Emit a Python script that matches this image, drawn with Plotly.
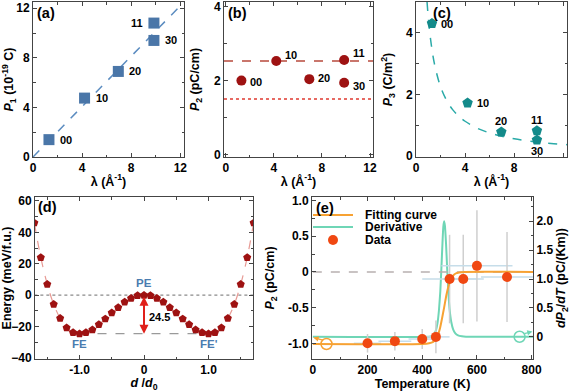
import plotly.graph_objects as go

# panels (a)-(c): polarisation vs lambda
lam = [1.3, 4.2, 6.95, 9.85, 9.85]
labels = ["00", "10", "20", "11", "30"]
p1 = [1.4, 4.75, 6.9, 10.8, 9.4]
p2 = [2.0, 2.53, 2.04, 2.56, 1.94]
p3 = [4.3, 1.72, 0.78, 0.82, 0.52]

fit1_x = [0, 12.3]
fit1_y = [0, 12.5]
p2_dash = 2.53
p2_dot = 1.5
fit3_x = [0.9, 1.0, 1.2, 1.5, 2.0, 2.5, 3.0, 3.5, 4.0, 5.0, 6.0, 7.0, 8.0, 9.0, 10.0, 11.0, 12.3]
fit3_y = [5.0, 4.5, 3.75, 3.0, 2.25, 1.8, 1.5, 1.29, 1.13, 0.9, 0.75, 0.64, 0.56, 0.5, 0.45, 0.41, 0.37]

# panel (d): double-well energy
d_vals = [round(-1.7 + 0.1 * i, 1) for i in range(35)]
e_half = [0.0, -0.2, -2.0, -4.4, -7.9, -11.2, -15.1, -18.7, -22.0, -23.7, -24.5,
          -23.7, -20.7, -14.7, -5.8, 7.0, 24.0, 46.0]  # |d| = 0.0 ... 1.7
energy = e_half[::-1] + e_half[1:]
barrier = -24.5

# panel (e): temperature dependence
temps = [200, 300, 400, 450, 500, 550, 600, 710]
p2_T = [-1.0, -0.97, -0.94, -0.91, -0.10, -0.10, 0.085, -0.07]
err_p = [0.13, 0.13, 0.14, 0.23, 0.62, 0.62, 0.78, 0.63]
err_T = [50, 60, 50, 50, 100, 75, 130, 95]
fit_T = [0, 400, 425, 440, 450, 458, 465, 472, 480, 488, 496, 504, 512, 522, 535, 555, 805]
fit_P = [-1.01, -1.01, -1.0, -0.98, -0.94, -0.88, -0.79, -0.66, -0.5, -0.33, -0.2, -0.11, -0.055, -0.022, -0.007, 0.0, 0.0]
deriv_T = [0, 425, 435, 443, 450, 456, 461, 466, 470, 474, 477, 480, 483, 487, 491, 495, 500, 506, 513, 521, 531, 545, 560, 805]
deriv_V = [0.0, 0.0, 0.01, 0.04, 0.11, 0.24, 0.45, 0.78, 1.18, 1.62, 1.9, 2.0, 1.92, 1.62, 1.2, 0.82, 0.48, 0.26, 0.13, 0.06, 0.025, 0.008, 0.0, 0.0]

BLUE = "#4a76a8"
DRED = "#9e1212"
TEAL = "#138a8a"
ORANGE = "#f7a233"
MINT = "#6fd6b6"
DOT = "#f04812"
FRAME = "#444444"

fig = go.Figure()

# (a)
fig.add_trace(go.Scatter(x=fit1_x, y=fit1_y, mode="lines", line=dict(color="#5b8cc0", dash="dash", width=1.5),
                         xaxis="x", yaxis="y", showlegend=False))
fig.add_trace(go.Scatter(x=lam, y=p1, mode="markers", marker=dict(symbol="square", size=11, color=BLUE),
                         xaxis="x", yaxis="y", showlegend=False))
# (b)
fig.add_trace(go.Scatter(x=[-0.15, 12.25], y=[p2_dash, p2_dash], mode="lines",
                         line=dict(color="#b84a3c", dash="dash", width=1.5), xaxis="x2", yaxis="y2", showlegend=False))
fig.add_trace(go.Scatter(x=[-0.15, 12.25], y=[p2_dot, p2_dot], mode="lines",
                         line=dict(color="#e03a30", dash="dot", width=1.5), xaxis="x2", yaxis="y2", showlegend=False))
fig.add_trace(go.Scatter(x=lam, y=p2, mode="markers", marker=dict(symbol="circle", size=10, color=DRED),
                         xaxis="x2", yaxis="y2", showlegend=False))
# (c)
fig.add_trace(go.Scatter(x=fit3_x, y=fit3_y, mode="lines", line=dict(color="#2aaaa8", dash="dash", width=1.5, shape="spline"),
                         xaxis="x3", yaxis="y3", showlegend=False))
fig.add_trace(go.Scatter(x=lam, y=p3, mode="markers", marker=dict(symbol="pentagon", size=11, color=TEAL),
                         xaxis="x3", yaxis="y3", showlegend=False))
# (d)
fig.add_trace(go.Scatter(x=[-1.7, 1.7], y=[0, 0], mode="lines", line=dict(color="#8a8a8a", dash="dot", width=1.2),
                         xaxis="x4", yaxis="y4", showlegend=False))
fig.add_trace(go.Scatter(x=[-1.0, 1.0], y=[barrier, barrier], mode="lines", line=dict(color="#9a9a9a", dash="dash", width=1.2),
                         xaxis="x4", yaxis="y4", showlegend=False))
fig.add_trace(go.Scatter(x=d_vals, y=energy, mode="lines+markers",
                         line=dict(color="#e79a94", dash="dash", width=1.2, shape="spline"),
                         marker=dict(symbol="pentagon", size=8.5, color=DRED),
                         xaxis="x4", yaxis="y4", showlegend=False))
# (e) derivative on right axis (y5), P2 on left axis (y6)
fig.add_trace(go.Scatter(x=deriv_T, y=deriv_V, mode="lines", line=dict(color=MINT, width=2, shape="spline", smoothing=0.4),
                         xaxis="x5", yaxis="y5", showlegend=False))
fig.add_trace(go.Scatter(x=[756], y=[0], mode="markers",
                         marker=dict(symbol="circle-open", size=11, color=MINT, line=dict(width=1.5)),
                         xaxis="x5", yaxis="y5", showlegend=False))
fig.add_trace(go.Scatter(x=[0, 805], y=[0, 0], mode="lines", line=dict(color="#b8b0b0", dash="dash", width=1.5),
                         xaxis="x5", yaxis="y6", showlegend=False))
fig.add_trace(go.Scatter(x=temps, y=p2_T, mode="markers",
                         marker=dict(size=0.1, color="rgba(0,0,0,0)"),
                         error_y=dict(type="data", array=err_p, color="#cfcfcf", thickness=1.5, width=0),
                         error_x=dict(type="data", array=err_T, color="#c6dde9", thickness=1.5, width=0),
                         xaxis="x5", yaxis="y6", showlegend=False))
fig.add_trace(go.Scatter(x=fit_T, y=fit_P, mode="lines", line=dict(color=ORANGE, width=2, shape="spline", smoothing=0.5),
                         xaxis="x5", yaxis="y6", showlegend=False))
fig.add_trace(go.Scatter(x=[50], y=[-1.01], mode="markers",
                         marker=dict(symbol="circle-open", size=11, color=ORANGE, line=dict(width=1.5)),
                         xaxis="x5", yaxis="y6", showlegend=False))
fig.add_trace(go.Scatter(x=temps, y=p2_T, mode="markers", marker=dict(size=10, color=DOT),
                         xaxis="x5", yaxis="y6", showlegend=False))


def axis(domain, rng, anchor, dtick=None, minor_dtick=None, **kw):
    d = dict(domain=domain, range=rng, anchor=anchor, showline=True, linecolor=FRAME, linewidth=1,
             mirror="ticks", ticks="inside", ticklen=4, tickcolor=FRAME, showgrid=False, zeroline=False,
             tickfont=dict(size=12), automargin=False)
    if dtick is not None:
        d.update(tick0=0, dtick=dtick)
    if minor_dtick is not None:
        d["minor"] = dict(tick0=0, dtick=minor_dtick, ticks="inside", ticklen=2.5, tickcolor=FRAME, showgrid=False)
    d.update(kw)
    return d


row1 = [1 - 157 / 392, 1 - 2 / 392]
row2 = [1 - 359 / 392, 1 - 197 / 392]
lam_title = dict(text="λ (Å<sup>-1</sup>)", font=dict(size=12.5), standoff=2)
minor_style = dict(ticks="inside", ticklen=2.5, tickcolor=FRAME, showgrid=False)

fig.update_layout(
    width=570, height=392,
    margin=dict(l=0, r=0, t=0, b=0),
    paper_bgcolor="white", plot_bgcolor="white",
    font=dict(family="Liberation Sans, Arial, sans-serif", size=12, color="black", weight="bold"),
    showlegend=False,
    xaxis=axis([33 / 570, 184 / 570], [0, 12.3], "y", 4, 2, title=lam_title),
    yaxis=axis(row1, [0, 12.5], "x", 4, 2,
               title=dict(text="<i>P</i><sub>1</sub> (10<sup>-19</sup> C)", font=dict(size=12.5), standoff=4)),
    xaxis2=axis([224 / 570, 373 / 570], [-0.15, 12.25], "y2", 4, 2, title=lam_title),
    yaxis2=axis(row1, [-0.07, 4.13], "x2", 2, 1,
                title=dict(text="<i>P</i><sub>2</sub> (pC/cm)", font=dict(size=12.5), standoff=11)),
    xaxis3=axis([416 / 570, 567 / 570], [0, 12.3], "y3", 4, 2, title=lam_title),
    yaxis3=axis(row1, [-0.03, 5.0], "x3", 2, 1,
                title=dict(text="<i>P</i><sub>3</sub> (C/m<sup>2</sup>)", font=dict(size=12.5), standoff=10)),
    xaxis4=axis([35 / 570, 253 / 570], [-1.69, 1.69], "y4",
                tickvals=[-1.0, 0, 1.0], ticktext=["-1.0", "0", "1.0"],
                minor=dict(tickvals=[-1.5, -0.5, 0.5, 1.5], **minor_style),
                title=dict(text="<i>d</i> /<i>d</i><sub>0</sub>", font=dict(size=12.5), standoff=2)),
    yaxis4=axis(row2, [-40.6, 62.5], "x4", 20, 10,
                title=dict(text="Energy (meV/f.u.)", font=dict(size=12.5), standoff=3)),
    xaxis5=axis([312 / 570, 533 / 570], [-3, 805], "y5", 200, 100,
                title=dict(text="Temperature (K)", font=dict(size=12.5), standoff=2)),
    yaxis5=axis(row2, [-0.385, 2.42], "x5", side="right", mirror=False,
                tickvals=[0, 0.5, 1.0, 1.5, 2.0], ticktext=["0", "0.5", "1.0", "1.5", "2.0"],
                minor=dict(tickvals=[0.25, 0.75, 1.25, 1.75, 2.25], **minor_style),
                title=dict(text="<i>dP</i><sub>2</sub>/<i>dT</i> (pC/(Km))", font=dict(size=12.5), standoff=4)),
    yaxis6=axis(row2, [-1.22, 1.05], "x5", side="left", overlaying="y5", mirror=False,
                tickvals=[-1.0, -0.5, 0, 0.5, 1.0], ticktext=["-1.0", "-0.5", "0", "0.5", "1.0"],
                minor=dict(tickvals=[-0.75, -0.25, 0.25, 0.75], **minor_style),
                title=dict(text="<i>P</i><sub>2</sub> (pC/cm)", font=dict(size=12.5), standoff=10)),
)

ann = []
# panel letters
for txt, px, py in [("(a)", 35, 13), ("(b)", 226, 13), ("(c)", 431, 13), ("(d)", 36, 207), ("(e)", 314, 208)]:
    ann.append(dict(text=txt, x=px / 570, y=1 - py / 392, xref="paper", yref="paper",
                    xanchor="left", yanchor="middle", showarrow=False, font=dict(size=14.5)))

# point labels
shift_a = [(9, 0, "left"), (9, 0, "left"), (9, 0, "left"), (-9, 0, "right"), (9, 0, "left")]
shift_b = [(7, -1, "left"), (7, 6, "left"), (7, 1, "left"), (7, 7, "left"), (7, -3, "left")]
shift_c = [(7, 0, "left"), (7, 0, "left"), (0, 11, "center"), (0, 11, "center"), (0, -11, "center")]
for xa, ya, vals, shifts in [("x", "y", p1, shift_a), ("x2", "y2", p2, shift_b), ("x3", "y3", p3, shift_c)]:
    for xv, yv, lab, (dx, dy, anc) in zip(lam, vals, labels, shifts):
        ann.append(dict(text=lab, x=xv, y=yv, xref=xa, yref=ya, xshift=dx, yshift=dy, xanchor=anc,
                        yanchor="middle", showarrow=False, font=dict(size=11)))

# panel (d) annotations
ann += [
    dict(x=0, y=barrier, ax=0, ay=0, xref="x4", yref="y4", axref="x4", ayref="y4", text="",
         showarrow=True, arrowhead=2, arrowside="end+start", arrowsize=0.9, arrowwidth=2, arrowcolor="#e0201a"),
    dict(text="24.5", x=0.05, y=-14, xref="x4", yref="y4", xanchor="left", showarrow=False, font=dict(size=11)),
    dict(text="PE", x=0, y=7.5, xref="x4", yref="y4", showarrow=False, font=dict(size=11.5, color="#4a7cb0")),
    dict(text="FE", x=-1.0, y=-31, xref="x4", yref="y4", showarrow=False, font=dict(size=11.5, color="#4a7cb0")),
    dict(text="FE'", x=1.0, y=-31, xref="x4", yref="y4", showarrow=False, font=dict(size=11.5, color="#4a7cb0")),
]

# panel (e) axis pointers
ann += [
    dict(x=2, y=-0.92, ax=42, ay=-0.96, xref="x5", yref="y6", axref="x5", ayref="y6", text="",
         showarrow=True, arrowhead=2, arrowsize=0.8, arrowwidth=1.3, arrowcolor=ORANGE),
    dict(x=803, y=0.09, ax=768, ay=0.05, xref="x5", yref="y5", axref="x5", ayref="y5", text="",
         showarrow=True, arrowhead=2, arrowsize=0.8, arrowwidth=1.3, arrowcolor=MINT),
]

# legend for panel (e)
leg_rows = [("Fitting curve", 215), ("Derivative", 227), ("Data", 240)]
for txt, py in leg_rows:
    ann.append(dict(text=txt, x=363 / 570, y=1 - py / 392, xref="paper", yref="paper",
                    xanchor="left", yanchor="middle", showarrow=False, font=dict(size=12)))
fig.update_layout(annotations=ann)

shapes = [
    dict(type="line", xref="paper", yref="paper", x0=313 / 570, x1=353 / 570, y0=1 - 215 / 392, y1=1 - 215 / 392,
         line=dict(color=ORANGE, width=2)),
    dict(type="line", xref="paper", yref="paper", x0=313 / 570, x1=353 / 570, y0=1 - 227 / 392, y1=1 - 227 / 392,
         line=dict(color=MINT, width=2)),
    dict(type="circle", xref="paper", yref="paper", x0=328 / 570, x1=338 / 570, y0=1 - 245 / 392, y1=1 - 235 / 392,
         fillcolor=DOT, line=dict(width=0)),
]
fig.update_layout(shapes=shapes)

# drop the browser's default page margin so the figure sits at the window's corner
fig.write_html("out.html", config={"displayModeBar": False},
               post_script="document.body.style.margin = '0';")
